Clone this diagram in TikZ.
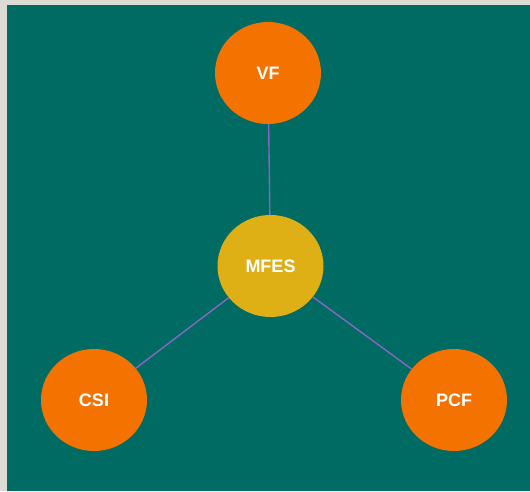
\documentclass[tikz,border=0pt]{standalone}
\usepackage{fontspec}
\setmainfont{Liberation Sans}
\usetikzlibrary{shapes.geometric}
\definecolor{bggray}{HTML}{DCDCD5}
\definecolor{teal}{HTML}{006B62}
\definecolor{orng}{HTML}{F47300}
\definecolor{gold}{HTML}{DEB016}
\definecolor{edgec}{HTML}{8468C4}
\tikzset{
  bubble/.style={ellipse, minimum width=106pt, minimum height=102pt, inner sep=0pt,
    text=white, font=\fontsize{18}{20}\selectfont\bfseries},
  outer/.style={bubble, fill=orng},
  hub/.style={bubble, fill=gold},
  link/.style={draw=edgec, line width=1.4pt}
}
\begin{document}
\begin{tikzpicture}[x=1pt,y=1pt]
\fill[bggray] (0,0) rectangle (530,491);
\fill[teal] (7,0) rectangle (530,486);
\useasboundingbox (0,0) rectangle (530,491);
\node[outer] (vf) at (268,418) {VF};
\node[hub] (mfes) at (270.5,225) {MFES};
\node[outer] (csi) at (94,91) {CSI};
\node[outer] (pcf) at (454,91) {PCF};
\draw[link] (vf) -- (mfes);
\draw[link] (mfes) -- (csi);
\draw[link] (mfes) -- (pcf);
\end{tikzpicture}
\end{document}
